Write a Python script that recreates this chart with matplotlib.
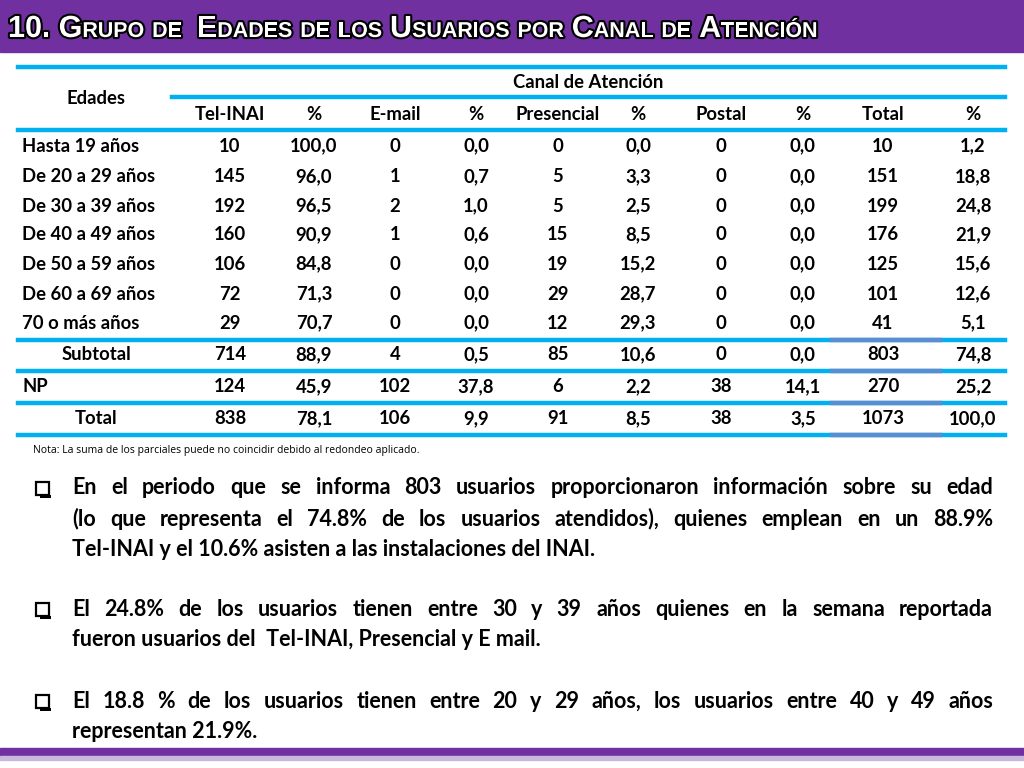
import matplotlib
matplotlib.use("Agg")
import matplotlib.pyplot as plt
import matplotlib.patheffects as pe
from matplotlib.patches import Rectangle

W, H = 1024, 768
fig = plt.figure(figsize=(10.24, 7.68), dpi=100)
fig.patch.set_facecolor("white")
r = fig.canvas.get_renderer()

PURPLE = "#7030A0"
BLUE = "#00B0F0"
DBLUE = "#5B8ED0"
FONT = "Lato"

# ---- data ----
title = "10. Grupo de  Edades de los Usuarios por Canal de Atención"
groups = ["Hasta 19 años", "De 20 a 29 años", "De 30 a 39 años", "De 40 a 49 años",
          "De 50 a 59 años", "De 60 a 69 años", "70 o más años", "Subtotal", "NP", "Total"]
col_heads = ["Tel-INAI", "%", "E-mail", "%", "Presencial", "%", "Postal", "%", "Total", "%"]
tel = ["10", "145", "192", "160", "106", "72", "29", "714", "124", "838"]
tel_pct = ["100,0", "96,0", "96,5", "90,9", "84,8", "71,3", "70,7", "88,9", "45,9", "78,1"]
email = ["0", "1", "2", "1", "0", "0", "0", "4", "102", "106"]
email_pct = ["0,0", "0,7", "1,0", "0,6", "0,0", "0,0", "0,0", "0,5", "37,8", "9,9"]
pres = ["0", "5", "5", "15", "19", "29", "12", "85", "6", "91"]
pres_pct = ["0,0", "3,3", "2,5", "8,5", "15,2", "28,7", "29,3", "10,6", "2,2", "8,5"]
postal = ["0", "0", "0", "0", "0", "0", "0", "0", "38", "38"]
postal_pct = ["0,0", "0,0", "0,0", "0,0", "0,0", "0,0", "0,0", "0,0", "14,1", "3,5"]
total = ["10", "151", "199", "176", "125", "101", "41", "803", "270", "1073"]
total_pct = ["1,2", "18,8", "24,8", "21,9", "15,6", "12,6", "5,1", "74,8", "25,2", "100,0"]
note = "Nota: La suma de los parciales puede no coincidir debido al redondeo aplicado."
bullets = [
    ["En el periodo que se informa 803 usuarios proporcionaron información sobre su edad",
     "(lo que representa el 74.8% de los usuarios atendidos),  quienes emplean en un 88.9%",
     "Tel-INAI y el 10.6% asisten a las instalaciones del INAI."],
    ["El 24.8% de los usuarios tienen entre 30 y 39 años quienes en la semana reportada",
     "fueron usuarios del  Tel-INAI, Presencial y E mail."],
    ["El 18.8 % de los usuarios tienen entre 20 y 29 años, los usuarios entre 40 y 49 años",
     "representan 21.9%."],
]


def T(x, y, s, **kw):
    kw.setdefault("fontfamily", FONT)
    kw.setdefault("fontweight", "bold")
    kw.setdefault("va", "center")
    return fig.text(x / W, 1 - y / H, s, **kw)


def hline(x0, x1, y, c=BLUE, lw=3.2):
    fig.add_artist(plt.Line2D([x0 / W, x1 / W], [1 - y / H, 1 - y / H], color=c, lw=lw))


def width(t):
    return t.get_window_extent(renderer=r).width


# ---- title bar ----
fig.add_artist(Rectangle((0, 1 - 52 / H), 1, 52 / H, color=PURPLE))
fig.add_artist(Rectangle((0, 12 / H), 1, 8 / H, color=PURPLE))
fig.add_artist(Rectangle((0, 8 / H), 1, 4 / H, color="#C8B8DC"))
x = 8
stroke = [pe.withStroke(linewidth=3, foreground="black")]
for word in title.split(" "):
    if word == "":
        x += 7
        continue
    for ch in word:
        big = ch.isupper() or ch.isdigit() or ch == "."
        t = T(x, 37, ch.upper(), color="white", fontsize=22 if big else 15.5,
              fontfamily="Liberation Sans", va="baseline", path_effects=stroke)
        x += width(t)
    x += 8

# ---- table ----
cols = [tel, tel_pct, email, email_pct, pres, pres_pct, postal, postal_pct, total, total_pct]
cx = [230, 314, 395, 476, 558, 638, 721, 803, 883, 973]
ry = [146, 177, 206, 235, 264, 294, 323, 355, 387, 419]
fs = 13.3
T(96, 98, "Edades", fontsize=fs, ha="center")
T(588, 83, "Canal de Atención", fontsize=fs, ha="center")
for x, h in zip(cx, col_heads):
    T(x, 115, h, fontsize=fs, ha="center")
for i, g in enumerate(groups):
    if g in ("Subtotal", "Total"):
        T(96, ry[i], g, fontsize=fs, ha="center")
    else:
        T(22, ry[i], g, fontsize=fs, ha="left")
    for x, col in zip(cx, cols):
        T(x, ry[i], col[i], fontsize=fs, ha="center")
hline(18, 1005, 67)
hline(172, 1005, 97)
for y in (130, 340, 371, 403, 435):
    hline(18, 1005, y)
    if y >= 340:
        hline(832, 940, y, c=DBLUE)
T(33, 451, note, fontsize=7.5, fontweight="normal", fontfamily="Open Sans")

# ---- bullets (justified) ----
bfs = 15.5
x0, x1 = 72, 993
ys = [[488, 519, 550], [609, 640], [701, 732]]
for lines, yl in zip(bullets, ys):
    fig.add_artist(Rectangle((36 / W, 1 - (yl[0] + 7) / H), 13 / W, 13 / H,
                             fill=False, ec="black", lw=1.6))
    fig.add_artist(Rectangle((40 / W, 1 - (yl[0] + 10) / H), 11 / W, 3 / H, color="black", lw=0))
    for j, (line, y) in enumerate(zip(lines, yl)):
        if j == len(lines) - 1:
            T(x0, y, line, fontsize=bfs)
            continue
        words = line.split()
        ts = [T(0, y, w, fontsize=bfs) for w in words]
        ws = [width(t) for t in ts]
        gap = (x1 - x0 - sum(ws)) / (len(words) - 1)
        x = x0
        for t, w in zip(ts, ws):
            t.set_x(x / W)
            x += w + gap

fig.savefig("out.png", dpi=100, facecolor="white")
